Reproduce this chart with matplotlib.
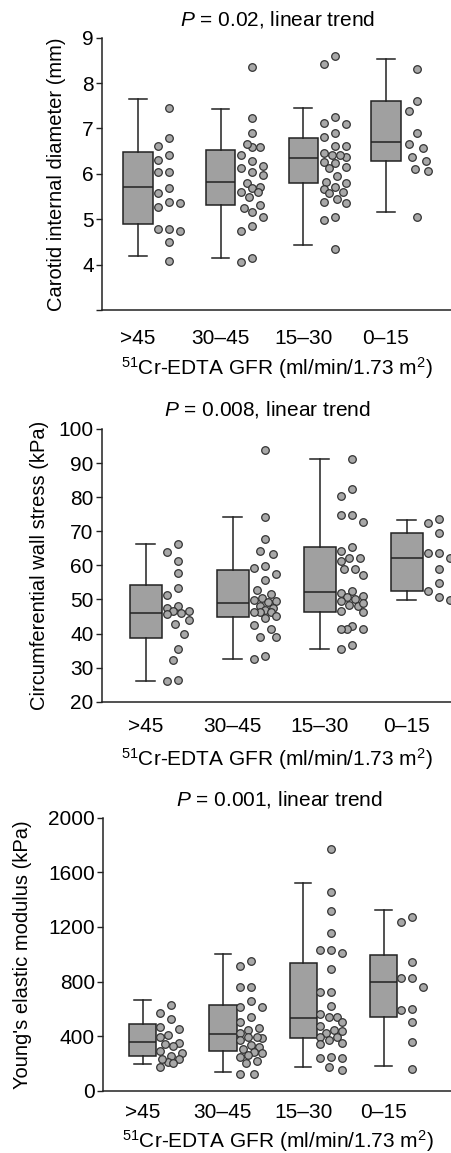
import numpy as np
import matplotlib
matplotlib.use('Agg')
import matplotlib.pyplot as plt

plt.rcParams['font.family'] = ['Liberation Sans', 'DejaVu Sans']
plt.rcParams['mathtext.fontset'] = 'custom'
plt.rcParams['mathtext.rm'] = 'Liberation Sans'
plt.rcParams['mathtext.it'] = 'Liberation Sans:italic'

# gruppi di GFR
groups = ['>45', '30\u201345', '15\u201330', '0\u201315']
xlabel = r'$^{51}$Cr-EDTA GFR (ml/min/1.73 m$^{2}$)'

# pannello 1: diametro interno carotideo (mm)
diam_box = [  # q1, mediana, q3, whisker basso, whisker alto
    (4.89, 5.72, 6.49, 4.18, 7.66),
    (5.31, 5.81, 6.53, 4.15, 7.42),
    (5.80, 6.35, 6.80, 4.44, 7.44),
    (6.28, 6.71, 7.60, 5.17, 8.54),
]
diam_pts = [
    [7.46, 6.78, 6.62, 6.41, 6.30, 6.03, 6.05, 5.68, 5.57, 5.36, 5.37, 5.28,
     4.78, 4.78, 4.73, 4.49, 4.09],
    [8.36, 7.24, 6.91, 6.60, 6.65, 6.60, 6.42, 6.29, 6.18, 6.13, 6.05, 5.98,
     5.80, 5.71, 5.69, 5.59, 5.61, 5.50, 5.32, 5.25, 5.17, 5.06, 4.84, 4.73,
     4.15, 4.06],
    [8.60, 8.42, 7.25, 7.13, 7.10, 6.91, 6.81, 6.62, 6.62, 6.47, 6.42, 6.37,
     6.42, 6.24, 6.26, 6.13, 6.16, 5.96, 5.83, 5.80, 5.67, 5.70, 5.58, 5.61,
     5.44, 5.36, 5.37, 5.06, 4.99, 4.34],
    [8.30, 7.61, 7.39, 6.90, 6.66, 6.57, 6.38, 6.29, 6.11, 6.07, 5.04],
]

# pannello 2: stress circonferenziale di parete (kPa)
stress_box = [
    (38.8, 45.9, 54.3, 26.1, 66.2),
    (44.8, 48.9, 58.6, 32.5, 74.3),
    (46.3, 52.1, 65.4, 35.6, 91.3),
    (52.5, 62.1, 69.4, 49.8, 73.3),
]
stress_pts = [
    [66.2, 63.9, 61.4, 57.8, 53.3, 51.3, 48.1, 47.4, 46.7, 46.6, 45.9, 45.6,
     44.0, 42.7, 39.8, 35.6, 32.2, 26.4, 26.1],
    [93.8, 74.3, 67.6, 64.3, 63.3, 59.9, 59.1, 57.5, 55.7, 52.8, 51.5, 50.3,
     49.6, 49.8, 49.3, 48.1, 47.4, 46.9, 46.4, 46.4, 46.2, 45.2, 44.6, 42.5,
     41.3, 39.1, 39.1, 33.4, 32.4],
    [91.3, 82.3, 80.4, 74.8, 74.8, 72.8, 65.4, 64.3, 62.3, 62.1, 61.4, 58.8,
     58.8, 57.2, 52.5, 51.8, 51.1, 50.8, 49.6, 50.0, 48.2, 48.4, 49.0, 46.7,
     46.4, 42.3, 41.2, 41.2, 41.2, 36.6, 35.6],
    [73.5, 72.3, 69.6, 63.5, 63.5, 62.3, 58.8, 54.9, 52.5, 50.8, 49.8],
]

# pannello 3: modulo elastico di Young (kPa)
young_box = [
    (256, 359, 489, 198, 667),
    (288, 413, 630, 139, 999),
    (383, 535, 938, 176, 1524),
    (537, 794, 996, 183, 1324),
]
young_pts = [
    [628, 567, 523, 449, 469, 396, 408, 352, 342, 327, 291, 273, 254, 230,
     212, 230, 200, 171],
    [950, 913, 762, 762, 659, 610, 610, 542, 501, 462, 444, 420, 383, 396,
     371, 396, 322, 335, 303, 286, 273, 261, 249, 220, 200, 120, 120],
    [1770, 1458, 1316, 1158, 1031, 1031, 1011, 889, 725, 725, 623, 559, 542,
     537, 506, 474, 440, 444, 420, 396, 396, 371, 352, 342, 249, 237, 237,
     176, 151],
    [1275, 1233, 945, 823, 823, 757, 591, 598, 501, 359, 156],
]

W, H = 452, 1153
fig = plt.figure(figsize=(W / 100, H / 100), dpi=100)
FS = 15


def swarm_x(ax, x0, vals, half_w=11, d=7.2):
    # disposizione deterministica dei punti (tipo beeswarm) in pixel
    trans = ax.transData
    order = np.argsort(vals)[::-1]
    px_per_x = trans.transform((1, 0))[0] - trans.transform((0, 0))[0]
    cands = np.linspace(-half_w, half_w, 9)
    placed = []
    xs = np.zeros(len(vals))
    for i in order:
        yp = trans.transform((x0, vals[i]))[1]
        best, best_score = 0.0, -1
        for c in sorted(cands, key=abs):
            if placed:
                dist = min(np.hypot(c - px, yp - py) for px, py in placed)
            else:
                dist = d
            score = min(dist, 1.7 * d)
            if score > best_score + 1e-6:
                best, best_score = c, score
        placed.append((best, yp))
        xs[i] = x0 + best / px_per_x
    return xs


def panel(rect, xlim, ylim, yticks, ylabel, title, title_px, boxes, pts,
          boxw, dot_off, ylab_px, tick_pad, xlab_pad, hide_first=False):
    ax = fig.add_axes(rect)
    ax.set_xlim(*xlim)
    ax.set_ylim(*ylim)
    stats = []
    for q1, med, q3, lo, hi in boxes:
        stats.append(dict(q1=q1, med=med, q3=q3, whislo=lo, whishi=hi, fliers=[]))
    pos = np.arange(len(groups))
    ax.bxp(stats, positions=pos, widths=boxw, patch_artist=True,
           showfliers=False, manage_ticks=False,
           boxprops=dict(facecolor='#a0a0a0', edgecolor='#222222', linewidth=1.1),
           medianprops=dict(color='#222222', linewidth=1.1),
           whiskerprops=dict(color='#222222', linewidth=1.1),
           capprops=dict(color='#222222', linewidth=1.1),
           capwidths=boxw * 0.6)
    for i, v in enumerate(pts):
        xs = swarm_x(ax, i + dot_off, v)
        ax.scatter(xs, v, s=30, facecolor='#a8a8a8', edgecolor='#333333',
                   linewidth=0.9, zorder=3, clip_on=False)
    ax.set_xticks(pos)
    ax.set_xticklabels(groups)
    ax.set_yticks(yticks)
    if hide_first:
        ax.set_yticklabels([''] + [str(t) for t in yticks[1:]])
    ax.tick_params(axis='x', length=0, labelsize=FS, pad=tick_pad)
    ax.tick_params(axis='y', length=4, width=1, labelsize=FS, pad=2,
                   color='#222222')
    for s in ['top', 'right']:
        ax.spines[s].set_visible(False)
    for s in ['left', 'bottom']:
        ax.spines[s].set_linewidth(1.1)
        ax.spines[s].set_color('#222222')
    ax.set_xlabel(xlabel, fontsize=FS, labelpad=xlab_pad)
    ax.set_ylabel(ylabel, fontsize=FS - 0.5, va='center')
    ax.yaxis.set_label_coords((ylab_px - rect[0] * W) / (rect[2] * W), 0.5)
    fig.text(title_px[0] / W, 1 - title_px[1] / H, title, ha='center',
             va='center', fontsize=FS)
    return ax


# pannello 1
panel([102 / W, 1 - 310 / H, (452 - 102) / W, (310 - 37.7) / H],
      (-0.435, 3.80), (3, 9), [3, 4, 5, 6, 7, 8, 9],
      'Carotid internal diameter (mm)', r'$\it{P}$ = 0.02, linear trend',
      (278, 19), diam_box, diam_pts, 0.355, 0.38, 57, 14, 5, hide_first=True)

# pannello 2
panel([102 / W, 1 - 701.7 / H, (452 - 102) / W, (701.7 - 429) / H],
      (-0.506, 3.52), (20, 100), list(range(20, 101, 10)),
      'Circumferential wall stress (kPa)', r'$\it{P}$ = 0.008, linear trend',
      (267, 410), stress_box, stress_pts, 0.364, 0.37, 40, 11, 7)

# pannello 3
panel([103.3 / W, 1 - 1090.7 / H, (452 - 103.3) / W, (1090.7 - 817.7) / H],
      (-0.488, 3.85), (0, 2000), list(range(0, 2001, 400)),
      "Young's elastic modulus (kPa)", r'$\it{P}$ = 0.001, linear trend',
      (279, 800), young_box, young_pts, 0.34, 0.35, 23, 9, 4)

fig.savefig('out.png', dpi=100)
